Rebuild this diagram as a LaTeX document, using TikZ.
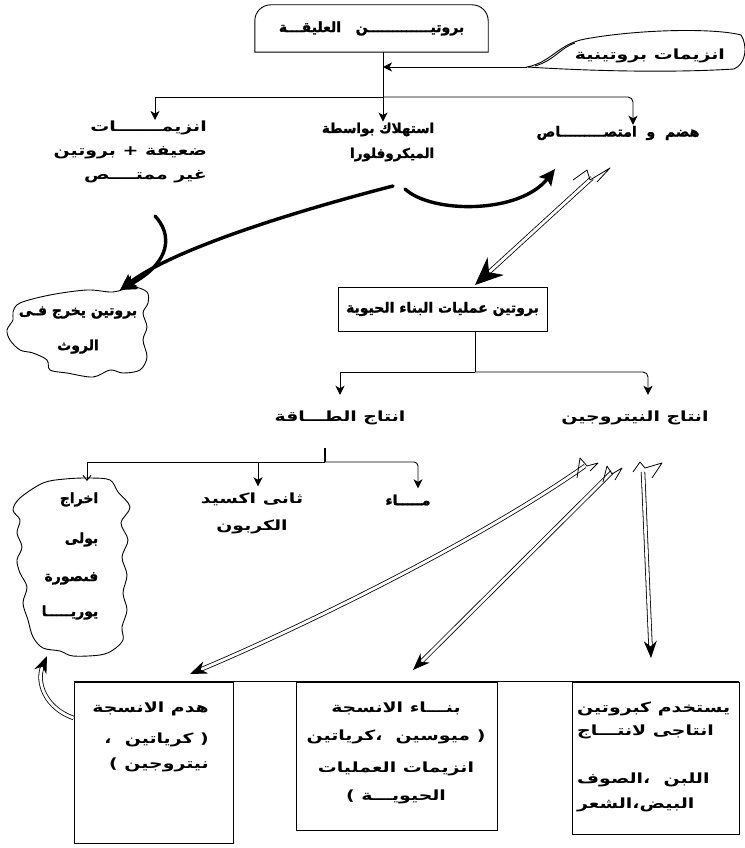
\documentclass[tikz,border=0pt]{standalone}
\usepackage{fontspec}
\newfontfamily\arabW[Script=Arabic, FakeStretch=1.35, UprightFont={* Bold}]{DejaVu Sans}
\newfontfamily\arabN[Script=Arabic, UprightFont={* Bold}, FakeBold=1.5]{DejaVu Sans}
\TeXXeTstate=1
\usetikzlibrary{arrows.meta}
\newcommand\ara[1]{\beginR #1\endR}
\tikzset{
  lbl/.style={font=\fontsize{14}{24}\selectfont\arabN, inner sep=1pt},
  wlbl/.style={font=\fontsize{14}{24}\selectfont\arabW, inner sep=1pt},
  ln/.style={line width=0.9pt},
  arr/.style={ln, -{Stealth[length=9pt,width=9pt,inset=2.5pt]}},
  thinarr/.style={ln, -{Straight Barb[length=5pt,width=8pt]}},
  brush/.style={line width=3.4pt, line cap=round, -{Stealth[length=16pt,width=15pt,inset=3pt]}},
  dbl/.style={draw=black, double=white, line width=0.8pt, double distance=2.8pt, -{Stealth[length=17pt,width=13pt]}},
  box/.style={draw, ln, inner sep=0pt},
  feather/.style={line width=0.8pt, line join=round},
}
\begin{document}
\begin{tikzpicture}[x=1pt,y=-1pt]
\useasboundingbox (0,0) rectangle (744,848);

% ---------- nodes ----------
\node[lbl, minimum width=233pt, minimum height=47pt] (top) at (371.5,28.5) {\ara{بروتيـــــــــــــن~~~العليقـــة}};
\node[wlbl] (enz) at (650,56) {\ara{انزيمات بروتينية}};
\node[lbl] (hadm) at (618,133) {\ara{هضم~~و~~امتصـــــــــاص}};
\node[lbl, font=\fontsize{13.5}{25}\selectfont\arabN, align=right] (micro) at (378,142) {\ara{استهلاك بواسطة}\\\ara{الميكروفلورا}};
\node[wlbl, align=right, anchor=north east] (anz) at (208,120) {\ara{انزيمـــــــات}\\\ara{ضعيفة + بروتين}\\\ara{غير ممتــــص}};
\node[lbl, align=center] (rowth) at (78,330) {\ara{بروتين يخرج فـى}\\[11pt]\ara{الروث}};
\node[lbl, box, minimum width=209pt, minimum height=44pt] (bio) at (442.5,309) {\ara{بروتين عمليات البناء الحيوية}};
\node[wlbl] (energy) at (340,418) {\ara{انتاج الطـــاقة}};
\node[wlbl] (nitro) at (635,418) {\ara{انتاج النيتروجين}};
\node[lbl] (water) at (408,500) {\ara{مـــــاء}};
\node[wlbl, align=center] (co2) at (252,513) {\ara{ثانى اكسيد}\\[3pt]\ara{الكربون}};
\node[lbl, align=right] (urea) at (70,556) {\ara{اخراج}\\[16pt]\ara{بولى}\\[14pt]\ara{فىصورة}\\[11pt]\ara{يوريـــــا}};

\node[box, minimum width=159pt, minimum height=161pt] (bx1) at (153.5,762.5) {};
\node[box, minimum width=201pt, minimum height=148pt] (bx2) at (396.5,756) {};
\node[box, minimum width=167pt, minimum height=152pt] (bx3) at (655.5,758) {};
\node[wlbl, align=right, anchor=north east] (t1) at (210,701) {\ara{هدم~الانسجة}\\[7pt]\ara{(~كرياتين~~،}\\[1pt]\ara{نيتروجين~)}};
\node[wlbl, align=center, anchor=north] (t2) at (396,701) {\ara{بنـــاء الانسجة}\\[4pt]\ara{( ميوسين~~،كرياتين}\\[8pt]\ara{انزيمات العمليات}\\[4pt]\ara{الحيويـــة )}};
\node[wlbl, align=left, anchor=north west] (t3) at (576,701) {\ara{يستخدم كبروتين}\\[-1pt]\ara{انتاجى لانتـــاج}\\[24pt]\ara{اللبن~~،الصوف}\\[1pt]\ara{البيض،الشعر}};

% ---------- shapes ----------
\draw[ln] (top.south west) -- ([yshift=-16pt]top.north west) arc[start angle=180, end angle=90, radius=16pt]
  -- ([xshift=-16pt]top.north east) arc[start angle=90, end angle=0, radius=16pt] -- (top.south east) -- cycle;

\draw[ln] (527,67) .. controls (552,62) and (558,44) .. (585,39) .. controls (640,29) and (715,28) .. (741,35)
  .. controls (748,46) and (746,64) .. (734,69) .. controls (670,73) and (590,71) .. (527,67) -- cycle;
\draw[ln] (535,66) .. controls (555,60) and (560,48) .. (575,43);
\coordinate (enzt) at (527,67);

\draw[ln] plot[smooth cycle, tension=0.55] coordinates {(13,312) (20,303) (50,295) (87,290) (113,292) (133,287) (147,292) (148,303) (143,313) (147,327) (143,340) (147,357) (140,370) (123,373) (110,370) (93,377) (67,373) (50,370) (47,360) (33,353) (20,350) (10,340) (7,330) (13,320)};

\draw[ln] plot[smooth cycle, tension=0.55] coordinates {(43,483) (65,479) (90,478) (110,480) (118,492) (130,507) (121,523) (128,540) (122,557) (127,575) (123,593) (127,610) (122,627) (123,640) (113,650) (100,655) (73,656) (60,651) (43,648) (33,637) (28,620) (23,603) (27,587) (20,573) (17,560) (22,547) (17,533) (20,520) (13,510) (20,498)};

\draw[line width=1.1pt] (bx1.north west) -- (bx3.north east);

% ---------- tree 1 ----------
\coordinate (j1) at (383,97);
\coordinate (jL) at (155,97);
\coordinate (jR) at (633,97);
\draw[ln] (top.south -| j1) -- (j1);
\draw[arr] (enzt) -- (enzt -| j1);
\draw[ln] (jL) -- (j1);
\draw[arr, rounded corners=5pt] (j1) -- (jR) -- (jR |- hadm.north);
\draw[arr] (jL) -- (jL |- anz.north);
\draw[arr] (j1) -- (j1 |- micro.north);

% ---------- brush arrows ----------
\coordinate (ms1) at (405,189);
\coordinate (ms2) at (393,186);
\coordinate (rt) at (120,290);
\coordinate (as) at (155,216);
\draw[brush] (ms1) .. controls (432,214) and (520,214) .. (555,169);
\draw[brush] (ms2) .. controls (300,210) and (175,248) .. (rt);
\draw[brush] (as) .. controls (172,234) and (172,262) .. (rt);

% ---------- big arrow to bio ----------
\coordinate (f6) at (592,178);
\coordinate (bt) at (475,285);
\draw[dbl, -{Stealth[length=28pt,width=24pt]}] (f6) -- (bt);
\draw[feather] (573,180) -- (587,170) -- (590,180) -- (610,168) -- (597,182);

% ---------- tree 2 ----------
\coordinate (j2) at (475,372);
\coordinate (k2L) at (340,372);
\coordinate (k2R) at (648,372);
\draw[ln] (bio.south -| j2) -- (j2);
\draw[arr, shorten >=15pt] (j2) -- (k2L) -- (k2L |- energy.north);
\draw[arr, shorten >=15pt, rounded corners=5pt] (j2) -- (k2R) -- (k2R |- nitro.north);

% ---------- tree 3 ----------
\coordinate (j3) at (325,462);
\coordinate (k3L) at (87,462);
\coordinate (k3M) at (258,462);
\coordinate (k3R) at (418,462);
\coordinate (ct) at (87,481);
\draw[line width=1.8pt] ([yshift=-22pt]energy.south -| j3) -- (j3);
\draw[thinarr] (j3) -- (k3L) -- (ct);
\draw[arr, shorten >=5pt] (k3M) -- (k3M |- co2.north);
\draw[arr, shorten >=5pt, rounded corners=4pt] (j3) -- (k3R) -- (k3R |- water.north);

% ---------- nitrogen arrows ----------
\coordinate (fA) at (585,466);
\coordinate (tA) at (190,674);
\coordinate (fB) at (612,472);
\coordinate (tB) at (413,670);
\coordinate (fC) at (643,472);
\coordinate (tC) at (651,658);
\draw[dbl] (fA) .. controls (480,540) and (300,628) .. (tA);
\draw[feather] (577,478) -- (580,458) -- (587,466) -- (598,463) -- (590,471);
\draw[dbl] (fB) -- (tB);
\draw[feather] (603,482) -- (607,466) -- (612,474) -- (622,468) -- (615,480);
\draw[dbl] (fC) -- (tC);
\draw[feather] (633,472) -- (640,462) -- (645,468) -- (662,463) -- (652,478);

% ---------- back arrow to urea ----------
\coordinate (hA) at (47,656);
\draw[dbl] (bx1.west |- 0,718) .. controls (45,708) and (36,682) .. (hA);
\end{tikzpicture}
\end{document}
